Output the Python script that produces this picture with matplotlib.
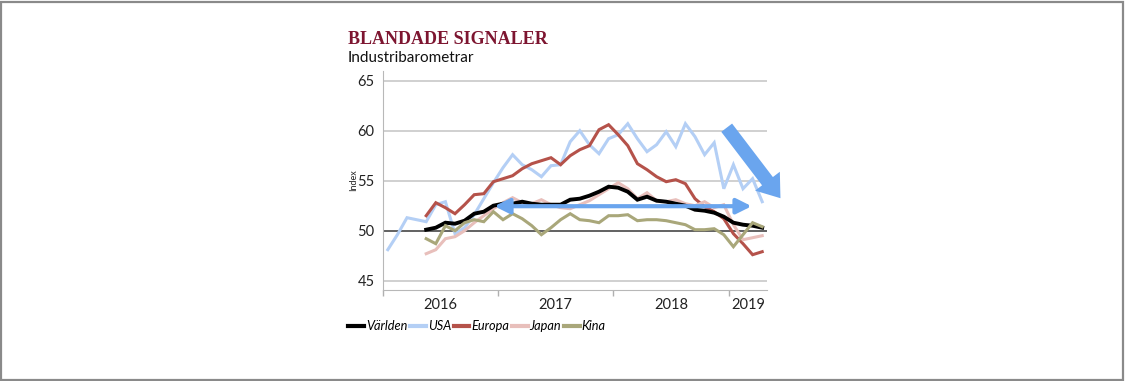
import matplotlib
matplotlib.use("Agg")
import matplotlib.pyplot as plt
import numpy as np
from matplotlib.patches import Rectangle

nan = np.nan

# Monthly data Jan 2016 - Apr 2019
years = ["2016", "2017", "2018", "2019"]
year_counts = [12, 12, 12, 4]

usa = [48.1, 49.6, 51.3, 51.1, 50.9, 52.6, 52.9, 49.7, 50.3, 51.6,
       53.2, 54.8, 56.3, 57.6, 56.6, 56.1, 55.4, 56.5, 56.6, 58.9,
       60.0, 58.6, 57.7, 59.2, 59.6, 60.7, 59.2, 57.9, 58.6, 59.9,
       58.4, 60.7, 59.4, 57.6, 58.8, 54.2, 56.6, 54.2, 55.2, 52.9]
europa = [nan, nan, nan, nan, 51.5, 52.8, 52.3, 51.7, 52.6, 53.6,
          53.7, 54.9, 55.2, 55.5, 56.2, 56.7, 57.0, 57.3, 56.6, 57.5,
          58.1, 58.5, 60.1, 60.6, 59.6, 58.5, 56.7, 56.1, 55.4, 54.9,
          55.1, 54.7, 53.2, 52.4, 51.9, 51.2, 49.7, 48.7, 47.6, 47.9]
varlden = [nan, nan, nan, nan, 50.1, 50.3, 50.8, 50.7, 51.0, 51.7,
           51.9, 52.5, 52.7, 52.7, 52.9, 52.7, 52.6, 52.6, 52.6, 53.1,
           53.2, 53.5, 53.9, 54.4, 54.3, 53.9, 53.1, 53.4, 53.0, 52.9,
           52.7, 52.5, 52.1, 52.0, 51.8, 51.4, 50.8, 50.6, 50.5, 50.3]
japan = [nan, nan, nan, nan, 47.7, 48.1, 49.2, 49.4, 50.0, 50.8,
         51.5, 52.2, 52.8, 53.3, 52.8, 52.7, 53.1, 52.6, 52.3, 52.2,
         52.6, 53.0, 53.6, 54.2, 54.8, 54.2, 53.2, 53.8, 53.0, 52.9,
         53.1, 52.7, 52.5, 52.9, 52.3, 52.6, 50.6, 49.1, 49.3, 49.5]
kina = [nan, nan, nan, nan, 49.2, 48.7, 50.5, 50.0, 50.8, 51.1,
        50.9, 51.9, 51.1, 51.7, 51.2, 50.5, 49.6, 50.3, 51.1, 51.7,
        51.1, 51.0, 50.8, 51.5, 51.5, 51.6, 51.0, 51.1, 51.1, 51.0,
        50.8, 50.6, 50.1, 50.1, 50.2, 49.6, 48.4, 49.6, 50.8, 50.4]

series_names = ["Världen", "USA", "Europa", "Japan", "Kina"]
series_values = [varlden, usa, europa, japan, kina]
series_colors = ["#000000", "#b4cff5", "#b5524a", "#e8bfbb", "#a9a77a"]
series_widths = [2.8, 2.2, 2.2, 2.2, 2.2]
series_z = [2.4, 2.0, 2.1, 2.2, 2.5]

yticks = [45, 50, 55, 60, 65]

W, H = 1125, 381
fig = plt.figure(figsize=(W / 100, H / 100), dpi=100)
ax = fig.add_axes([383 / W, 1 - 290 / H, 384 / W, 219 / H])

n = len(usa)
x = np.arange(n)
handles = []
for name, vals, c, lw, z in zip(series_names, series_values, series_colors, series_widths, series_z):
    h, = ax.plot(x, vals, color=c, lw=lw, zorder=z, label=name, solid_joinstyle="miter")
    handles.append(h)

ax.set_xlim(-0.5, n - 0.5)
ax.set_ylim(44.07, 65.97)

# grid
for yv in yticks:
    if yv == 50:
        ax.axhline(yv, color="#555555", lw=1.3, zorder=1.5)
    else:
        ax.axhline(yv, color="#c4c4c4", lw=1.1, zorder=1)

ax.set_yticks(yticks)
ax.tick_params(axis="y", length=0, pad=6, labelsize=10.5, labelcolor="#222222")

# year ticks
bounds = np.cumsum([0] + year_counts) - 0.5
centers = [(bounds[i] + bounds[i + 1]) / 2 for i in range(len(years))]
ax.set_xticks(bounds[:-1])
ax.set_xticklabels([])
ax.tick_params(axis="x", which="major", length=4, color="#b0b0b0", width=1)
ax.set_xticks(centers, minor=True)
ax.set_xticklabels(years, minor=True)
ax.tick_params(axis="x", which="minor", length=0, pad=6, labelsize=10.5, labelcolor="#222222")

for lab in ax.get_xticklabels(minor=True) + ax.get_yticklabels():
    lab.set_fontfamily("Lato")

for s in ["top", "right"]:
    ax.spines[s].set_visible(False)
ax.spines["left"].set_color("#b8b8b8")
ax.spines["bottom"].set_color("#b8b8b8")
ax.patch.set_alpha(0)

ax.set_ylabel("Index", fontsize=6.5, family="Lato", color="#222222")
ax.yaxis.set_label_coords(-0.066, 0.5)

arrow_c = "#6aa5ee"
# horizontal double arrow
ax.annotate("", xy=(11.1, 52.45), xytext=(37.9, 52.45),
            arrowprops=dict(arrowstyle="<|-|>,head_length=0.9,head_width=0.45",
                            color=arrow_c, lw=3.0, shrinkA=0, shrinkB=0),
            zorder=5)
# diagonal thick arrow
ax.annotate("", xy=(40.9, 53.25), xytext=(35.3, 60.3),
            arrowprops=dict(arrowstyle="simple,head_length=1.1,head_width=1.6,tail_width=0.7",
                            color=arrow_c, lw=0, shrinkA=0, shrinkB=0, mutation_scale=14),
            zorder=5, annotation_clip=False)

# titles
fig.text(348 / W, 1 - 44 / H, "BLANDADE SIGNALER", color="#7d1530", fontsize=13,
         fontweight="bold", family="Liberation Serif", va="baseline", ha="left")
fig.text(348 / W, 1 - 62 / H, "Industribarometrar", color="#111111", fontsize=11,
         family="Lato", va="baseline", ha="left")

# legend
leg = fig.legend(handles=handles, labels=series_names, loc="center left",
                 bbox_to_anchor=(348 / W, 1 - 326 / H), ncol=5, frameon=False,
                 handlelength=1.25, handletextpad=0.15, columnspacing=0.2,
                 prop=dict(family="Lato", style="italic", size=9.2), borderaxespad=0,
                 borderpad=0)
for lh in leg.get_lines():
    lh.set_linewidth(3.0)

# outer frame
fig.patches.append(Rectangle((0.001, 0.002), 0.997, 0.994, transform=fig.transFigure,
                             fill=False, edgecolor="#8a8a8a", lw=1.6))

fig.savefig("out.png", dpi=100)
